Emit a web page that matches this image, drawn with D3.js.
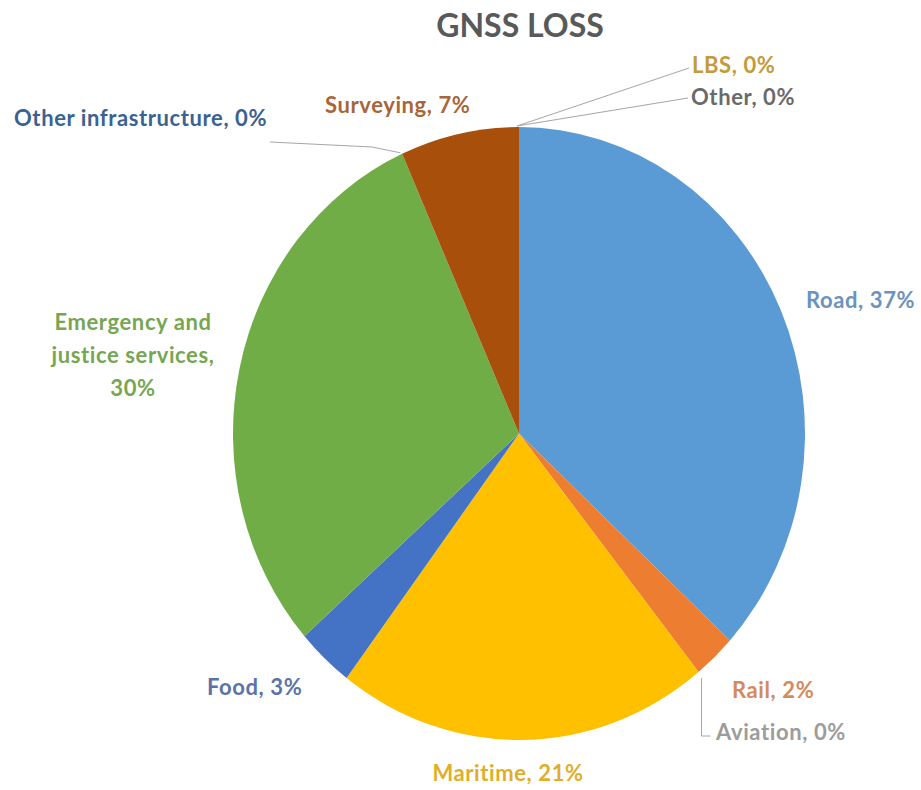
<!DOCTYPE html>
<html>
<head>
<meta charset="utf-8">
<script src="https://cdn.jsdelivr.net/npm/d3@7"></script>
<style>
  html, body { margin: 0; padding: 0; background: #ffffff; }
  svg { display: block; }
  text { font-family: Lato, "Open Sans", sans-serif; font-weight: bold; }
</style>
</head>
<body>
<svg id="chart" width="921" height="790"></svg>
<script>
// ---- data (clockwise from 12 o'clock) ----
const categories = ["Road", "Rail", "Aviation", "Maritime", "Food",
  "Emergency and justice services", "Other infrastructure", "Surveying", "LBS", "Other"];
const shares = [36.8, 2.4, 0, 21.1, 3.2, 29.8, 0, 6.7, 0, 0];
const percentLabels = ["37%", "2%", "0%", "21%", "3%", "30%", "0%", "7%", "0%", "0%"];
const title = "GNSS LOSS";

// ---- styling ----
const sliceColors = ["#5b9bd5", "#ed7d31", "#a5a5a5", "#ffc000", "#4472c4",
  "#70ad47", "#255e91", "#a94f0c", "#997300", "#636363"];
const labelColors = ["#6b93bd", "#d48a5c", "#9c9c9c", "#e0ae2a", "#5a73aa",
  "#76a653", "#3b6290", "#a8653a", "#c49a3a", "#6a6a6a"];

// label layout: anchor point (x, y center) and optional leader polyline
const labelLayout = {
  "Road": { x: 806, y: 300, anchor: "start" },
  "Rail": { x: 732, y: 690, anchor: "start" },
  "Aviation": { x: 716, y: 732, anchor: "start", leader: "aviation" },
  "Maritime": { x: 508, y: 773, anchor: "middle" },
  "Food": { x: 207, y: 687, anchor: "start" },
  "Emergency and justice services": { x: 133, y: 322, anchor: "middle", lines: ["Emergency and", "justice services,"], lineGap: 33 },
  "Other infrastructure": { x: 14, y: 118, anchor: "start", leader: [[372, 147], [270, 142]] },
  "Surveying": { x: 325, y: 105, anchor: "start" },
  "LBS": { x: 692, y: 65, anchor: "start", leader: [[689, 68]] },
  "Other": { x: 691, y: 97, anchor: "start", leader: [[688, 98]] }
};

const cx = 519, cy = 433.5, rx = 286, ry = 306.5;

const svg = d3.select("#chart");

svg.append("text")
  .attr("x", 520).attr("y", 26).attr("dy", "0.35em")
  .attr("text-anchor", "middle")
  .attr("fill", "#595959")
  .style("font-size", "32px")
  .text(title);

const data = categories.map((c, i) => ({ name: c, value: shares[i], pct: percentLabels[i], i }));

const pie = d3.pie().sort(null).value(d => d.value);
const arcs = pie(data);
const arc = d3.arc().innerRadius(0).outerRadius(rx);

const g = svg.append("g")
  .attr("transform", `translate(${cx},${cy}) scale(1,${ry / rx})`);

g.selectAll("path")
  .data(arcs)
  .join("path")
  .attr("d", arc)
  .attr("fill", d => sliceColors[d.data.i]);

// point on elliptical edge at given angle
function edgePoint(a) {
  return [cx + rx * Math.sin(a), cy - ry * Math.cos(a)];
}

const leaderG = svg.append("g")
  .attr("fill", "none")
  .attr("stroke", "#a6a6a6")
  .attr("stroke-width", 1);

arcs.forEach(d => {
  const lay = labelLayout[d.data.name];
  if (!lay.leader) return;
  const p = edgePoint(d.startAngle);
  let pts;
  if (lay.leader === "aviation") {
    pts = [[p[0] + 3, p[1] + 6], [p[0] + 3, lay.y + 4], [p[0] + 12, lay.y + 4]];
  } else {
    pts = [[p[0] - 2, p[1] - 1]].concat(lay.leader);
  }
  leaderG.append("polyline").attr("points", pts.map(q => q.join(",")).join(" "));
});

const labelG = svg.append("g").style("font-size", "22px").style("letter-spacing", "0.6px");
arcs.forEach(d => {
  const lay = labelLayout[d.data.name];
  const t = labelG.append("text")
    .attr("x", lay.x).attr("y", lay.y)
    .attr("text-anchor", lay.anchor)
    .attr("fill", labelColors[d.data.i]);
  if (lay.lines) {
    const lines = lay.lines.concat([d.data.pct]);
    lines.forEach((ln, k) => {
      t.append("tspan").attr("x", lay.x).attr("y", lay.y + k * lay.lineGap).attr("dy", "0.35em").text(ln);
    });
  } else {
    t.attr("dy", "0.35em").text(`${d.data.name}, ${d.data.pct}`);
  }
});
</script>
</body>
</html>
